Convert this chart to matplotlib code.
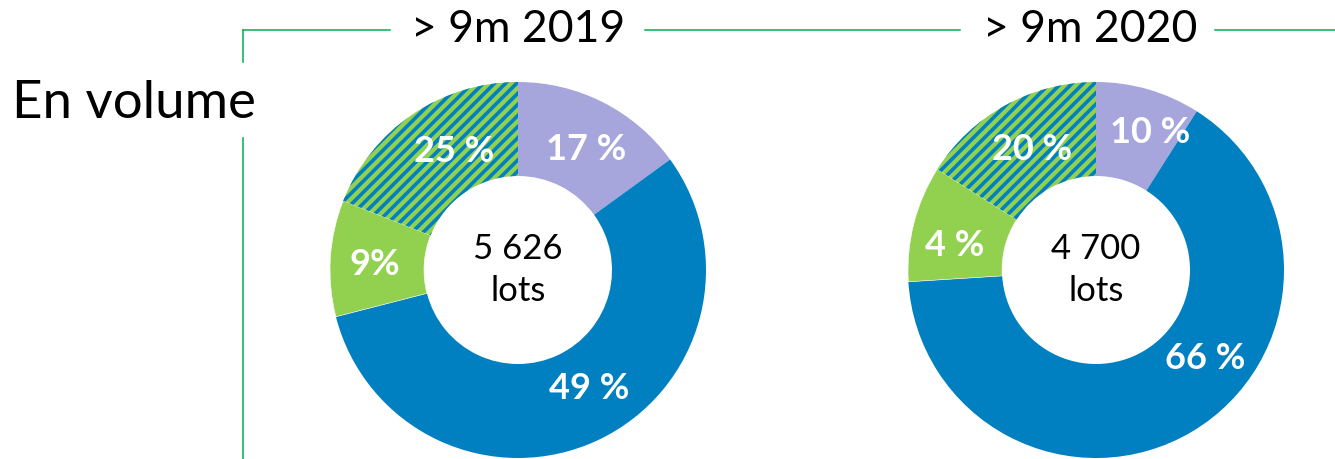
import matplotlib.pyplot as plt

# slice shares as drawn (clockwise from 12 o'clock): purple, blue, green, hatched green
shares_2019 = [15, 56, 10, 19]
shares_2020 = [9, 65, 10, 16]
labels_2019 = ['17 %', '49 %', '9%', '25 %']
labels_2020 = ['10 %', '66 %', '4 %', '20 %']
totals = ['5 626\nlots', '4 700\nlots']
titles = ['> 9m 2019', '> 9m 2020']

purple = '#A6A5DC'
blue = '#0080C0'
green = '#92D050'
line_green = '#00B050'

plt.rcParams['font.family'] = ['Lato', 'DejaVu Sans']
plt.rcParams['hatch.linewidth'] = 2.6

fig = plt.figure(figsize=(13.35, 4.59), dpi=100)

# background axes in pixel coordinates for frame lines and headings
bg = fig.add_axes([0, 0, 1, 1])
bg.set_xlim(0, 1335)
bg.set_ylim(459, 0)
bg.axis('off')

bg.plot([243, 390], [30, 30], color=line_green, lw=1.1)
bg.plot([645, 960], [30, 30], color=line_green, lw=1.1)
bg.plot([1215, 1335], [30, 30], color=line_green, lw=1.1)
bg.plot([243, 243], [30, 62], color=line_green, lw=1.1)
bg.plot([243, 243], [138, 459], color=line_green, lw=1.1)

bg.text(518, 30, titles[0], ha='center', va='center', fontsize=32)
bg.text(1090, 30, titles[1], ha='center', va='center', fontsize=32)
bg.text(12, 104, 'En volume', ha='left', va='center', fontsize=38)

# label positions inside the ring (data coords, radius = 1)
pos_2019 = [(0.36, 0.64), (0.38, -0.63), (-0.76, 0.03), (-0.34, 0.63)]
pos_2020 = [(0.29, 0.73), (0.58, -0.47), (-0.75, 0.13), (-0.34, 0.64)]

donuts = [(shares_2019, labels_2019, pos_2019, totals[0], 330),
          (shares_2020, labels_2020, pos_2020, totals[1], 908)]

for shares, labels, pos, total, left in donuts:
    ax = fig.add_axes([left / 1335, 1 / 459, 376 / 1335, 376 / 459])
    wedges, _ = ax.pie(shares, startangle=90, counterclock=False, radius=1,
                       colors=[purple, blue, green, green],
                       wedgeprops=dict(width=0.5, linewidth=0))
    wedges[3].set_hatch('///')
    wedges[3].set_edgecolor(blue)
    wedges[2].set_edgecolor('white')
    wedges[2].set_linewidth(0.4)
    ax.set_xlim(-1, 1)
    ax.set_ylim(-1, 1)
    for lab, (x, y) in zip(labels, pos):
        ax.text(x, y, lab, ha='center', va='center', color='white',
                fontsize=26, fontweight='bold')
    ax.text(0, 0, total, ha='center', va='center', fontsize=25,
            linespacing=1.4)

fig.savefig('out.png', dpi=100)
